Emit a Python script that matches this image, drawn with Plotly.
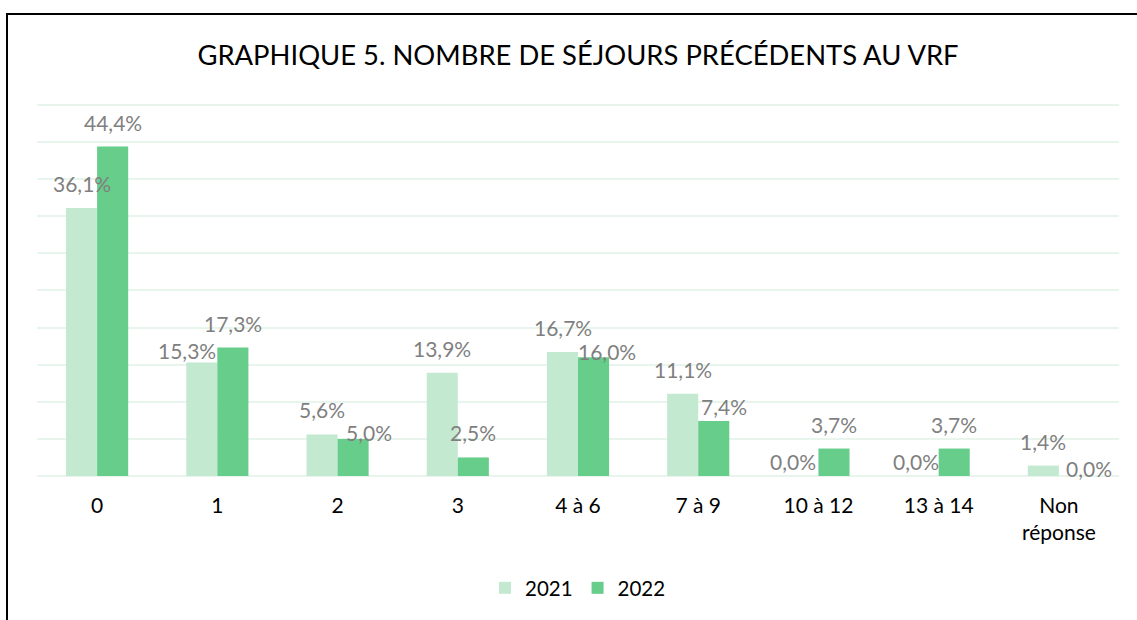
import plotly.graph_objects as go

categories = ["0", "1", "2", "3", "4 à 6", "7 à 9", "10 à 12", "13 à 14", "Non<br>réponse"]
values_2021 = [36.1, 15.3, 5.6, 13.9, 16.7, 11.1, 0.0, 0.0, 1.4]
values_2022 = [44.4, 17.3, 5.0, 2.5, 16.0, 7.4, 3.7, 3.7, 0.0]
series_names = ["2021", "2022"]
title_text = "GRAPHIQUE 5. NOMBRE DE SÉJOURS PRÉCÉDENTS AU VRF"

# label placement tweaks (pixels) mimicking the original overlap-avoidance
label_dx_2021 = [0, -15, 0, 0, 0, 0, -10, -7, 0]
label_dy_2021 = [0, -13, 0, 0, 0, 0, -10, -10, 0]
label_dx_2022 = [0, 0, 16, 0, 13, 10, 0, 0, 15]
label_dy_2022 = [0, 0, -18, 0, -19, -10, 0, 0, -17]

FONT = "Lato"
C2021 = "#C3EAD1"
C2022 = "#66CD8B"
GRID = "#E8F5EC"
LABEL = "#7F7F7F"

fig = go.Figure()
fig.add_trace(go.Bar(x=categories, y=values_2021, name=series_names[0],
                     marker=dict(color=C2021, line=dict(width=0))))
fig.add_trace(go.Bar(x=categories, y=values_2022, name=series_names[1],
                     marker=dict(color=C2022, line=dict(width=0))))

def fmt(v):
    return f"{v:.1f}".replace(".", ",") + "%"

annotations = []
half = 15.5
for cat, v, dx, dy in zip(categories, values_2021, label_dx_2021, label_dy_2021):
    annotations.append(dict(x=cat, y=v, xref="x", yref="y", text=fmt(v), showarrow=False,
                            xshift=-half + dx, yshift=24.5 + dy, yanchor="middle",
                            font=dict(family=FONT, size=21, color=LABEL)))
for cat, v, dx, dy in zip(categories, values_2022, label_dx_2022, label_dy_2022):
    annotations.append(dict(x=cat, y=v, xref="x", yref="y", text=fmt(v), showarrow=False,
                            xshift=half + dx, yshift=24.5 + dy, yanchor="middle",
                            font=dict(family=FONT, size=21, color=LABEL)))

W, H = 1137, 620
L, R, T, B = 37, 18, 102, 144
pw = W - L - R
ph = H - T - B

def px_x(x):
    return (x - L) / pw

def px_y(y):
    return (H - B - y) / ph

fig.update_layout(
    width=W, height=H,
    margin=dict(l=L, r=R, t=T, b=B, pad=0),
    paper_bgcolor="white", plot_bgcolor="white",
    barmode="group", bargap=0.483, bargroupgap=0,
    font=dict(family=FONT, size=21, color="#000000"),
    title=dict(text=title_text, x=0.5, xref="paper", xanchor="center",
               y=1 - 55 / H, yref="container", yanchor="middle",
               font=dict(family=FONT, size=27.4, color="#000000")),
    xaxis=dict(showgrid=False, showline=False, ticks="", zeroline=False,
               tickfont=dict(family=FONT, size=21, color="#000000"),
               ticklabelstandoff=15),
    yaxis=dict(range=[0, 50.4], dtick=5, showgrid=True, gridcolor=GRID, gridwidth=2,
               zeroline=True, zerolinecolor=GRID, zerolinewidth=2,
               showticklabels=False, ticks="", showline=False),
    legend=dict(orientation="h", x=0.5, xanchor="center", y=px_y(588), yanchor="middle",
                font=dict(family=FONT, size=20.5, color="#000000"), itemwidth=30,
                traceorder="normal"),
    annotations=annotations,
    shapes=[dict(type="rect", xref="paper", yref="paper",
                 x0=px_x(7), x1=px_x(1145), y0=px_y(640), y1=px_y(14),
                 line=dict(color="#000000", width=2), fillcolor="rgba(0,0,0,0)", layer="above")],
)

fig.write_html("out.html", config={"displayModeBar": False},
               post_script="document.body.style.margin='0';document.body.style.padding='0';")
